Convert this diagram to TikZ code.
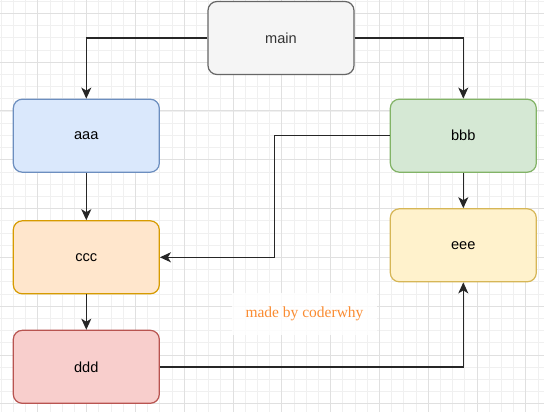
\documentclass[tikz,border=0pt]{standalone}
\usepackage{fontspec}
\setmainfont{Liberation Sans}
\newfontfamily\timesfont{Liberation Serif}
\usetikzlibrary{arrows.meta}

\definecolor{gridminor}{HTML}{F0F0F0}
\definecolor{gridmajor}{HTML}{E0E0E0}
\definecolor{mainfill}{HTML}{F5F5F5}
\definecolor{maindraw}{HTML}{666666}
\definecolor{maintext}{HTML}{333333}
\definecolor{aaafill}{HTML}{DAE8FC}
\definecolor{aaadraw}{HTML}{6C8EBF}
\definecolor{bbbfill}{HTML}{D5E8D4}
\definecolor{bbbdraw}{HTML}{82B366}
\definecolor{cccfill}{HTML}{FFE6CC}
\definecolor{cccdraw}{HTML}{D79B00}
\definecolor{dddfill}{HTML}{F8CECC}
\definecolor{ddddraw}{HTML}{B85450}
\definecolor{eeefill}{HTML}{FFF2CC}
\definecolor{eeedraw}{HTML}{D6B656}
\definecolor{signorange}{HTML}{FA8C32}

\begin{document}
\begin{tikzpicture}[x=1pt, y=-1pt,
    block/.style={rectangle, rounded corners=9pt, line width=1.2pt, draw,
        minimum width=146pt, minimum height=73pt, inner sep=0pt,
        font=\fontsize{14.6}{17}\selectfont},
    arr/.style={-{Stealth[length=11pt, width=10pt, inset=3pt]}, line width=1.4pt, draw=black!85}]
    \useasboundingbox[fill=white] (0,0) rectangle (544,412);

    % grid
    \foreach \k in {0,...,44} {
        \draw[gridminor, line width=0.7pt] (1.1+12.2*\k,0) -- (1.1+12.2*\k,412);
    }
    \foreach \k in {0,...,33} {
        \draw[gridminor, line width=0.7pt] (0,1.1+12.2*\k) -- (544,1.1+12.2*\k);
    }
    \foreach \k in {0,...,10} {
        \draw[gridmajor, line width=0.8pt] (37.7+48.8*\k,0) -- (37.7+48.8*\k,412);
    }
    \foreach \k in {0,...,8} {
        \draw[gridmajor, line width=0.8pt] (0,13.3+48.8*\k) -- (544,13.3+48.8*\k);
    }

    % blocks
    \node[block, fill=mainfill, draw=maindraw, text=maintext] (main) at (281,38) {main};
    \node[block, fill=aaafill, draw=aaadraw] (aaa) at (86.3,135.7) {aaa};
    \node[block, fill=bbbfill, draw=bbbdraw] (bbb) at (463.3,135.7) {bbb};
    \node[block, fill=cccfill, draw=cccdraw] (ccc) at (86.3,257.3) {ccc};
    \node[block, fill=dddfill, draw=ddddraw] (ddd) at (86.3,366.8) {ddd};
    \node[block, fill=eeefill, draw=eeedraw] (eee) at (463.3,245.3) {eee};

    \node[fill=white, fill opacity=0.85, text opacity=1, minimum width=145pt, minimum height=42pt,
        text=signorange, font=\timesfont\fontsize{15.5}{18}\selectfont] (sign) at (304.5,314) {made by coderwhy};

    \coordinate (bend) at (274.7,135.7);

    % connectors
    \draw[arr] (main.west) -| (aaa.north);
    \draw[arr] (main.east) -| (bbb.north);
    \draw[arr] (aaa.south) -- (ccc.north);
    \draw[arr] (bbb.south) -- (eee.north);
    \draw[arr] (bbb.west) -- (bend) |- (ccc.east);
    \draw[arr] (ccc.south) -- (ddd.north);
    \draw[arr] (ddd.east) -| (eee.south);
\end{tikzpicture}
\end{document}
